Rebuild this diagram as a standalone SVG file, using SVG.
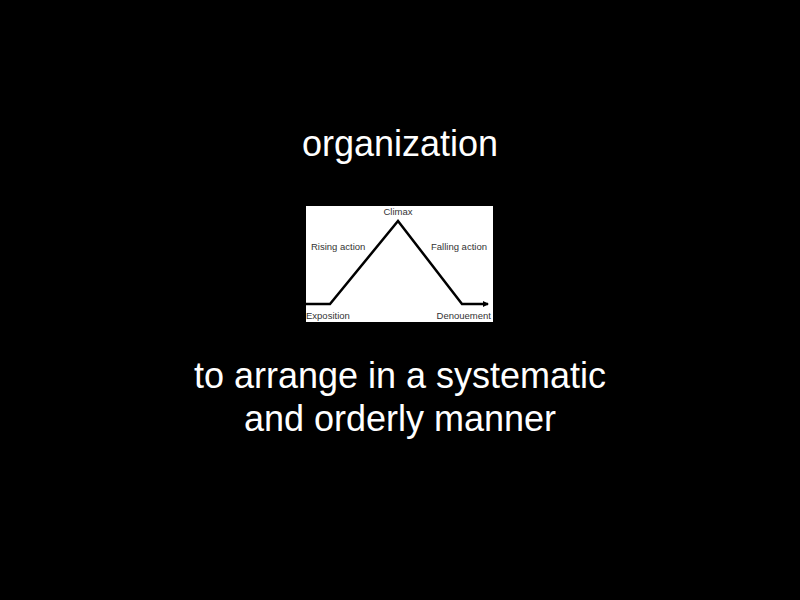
<svg xmlns="http://www.w3.org/2000/svg" width="800" height="600" viewBox="0 0 800 600">
<style>
.big{font-family:"Liberation Sans",Arial,sans-serif;font-size:36px;fill:#fff;text-anchor:middle}
.lbl{font-family:"Liberation Sans",Arial,sans-serif;font-size:9.5px;fill:#333}
</style>
<defs>
<marker id="arr" markerWidth="6" markerHeight="6" refX="5" refY="3" orient="auto" markerUnits="userSpaceOnUse">
<path d="M0,0 L6,3 L0,6 Z" fill="#000"/>
</marker>
</defs>
<rect width="800" height="600" fill="#000"/>
<g id="title"><text class="big" x="400" y="156">organization</text></g>
<g id="diagram">
<rect x="306" y="206" width="187" height="116" fill="#fff"/>
<g id="connectors">
<polyline points="306,304 330,304 398,221 462,304 488,304" fill="none" stroke="#000" stroke-width="2.5" stroke-linejoin="miter" marker-end="url(#arr)"/>
</g>
<g id="climax"><text class="lbl" x="398" y="215" text-anchor="middle">Climax</text></g>
<g id="rising"><text class="lbl" x="311" y="250">Rising action</text></g>
<g id="falling"><text class="lbl" x="431" y="250">Falling action</text></g>
<g id="exposition"><text class="lbl" x="306" y="319">Exposition</text></g>
<g id="denouement"><text class="lbl" x="491" y="319" text-anchor="end">Denouement</text></g>
</g>
<g id="definition">
<text class="big" x="400" y="388">to arrange in a systematic</text>
<text class="big" x="400" y="431">and orderly manner</text>
</g>
</svg>
